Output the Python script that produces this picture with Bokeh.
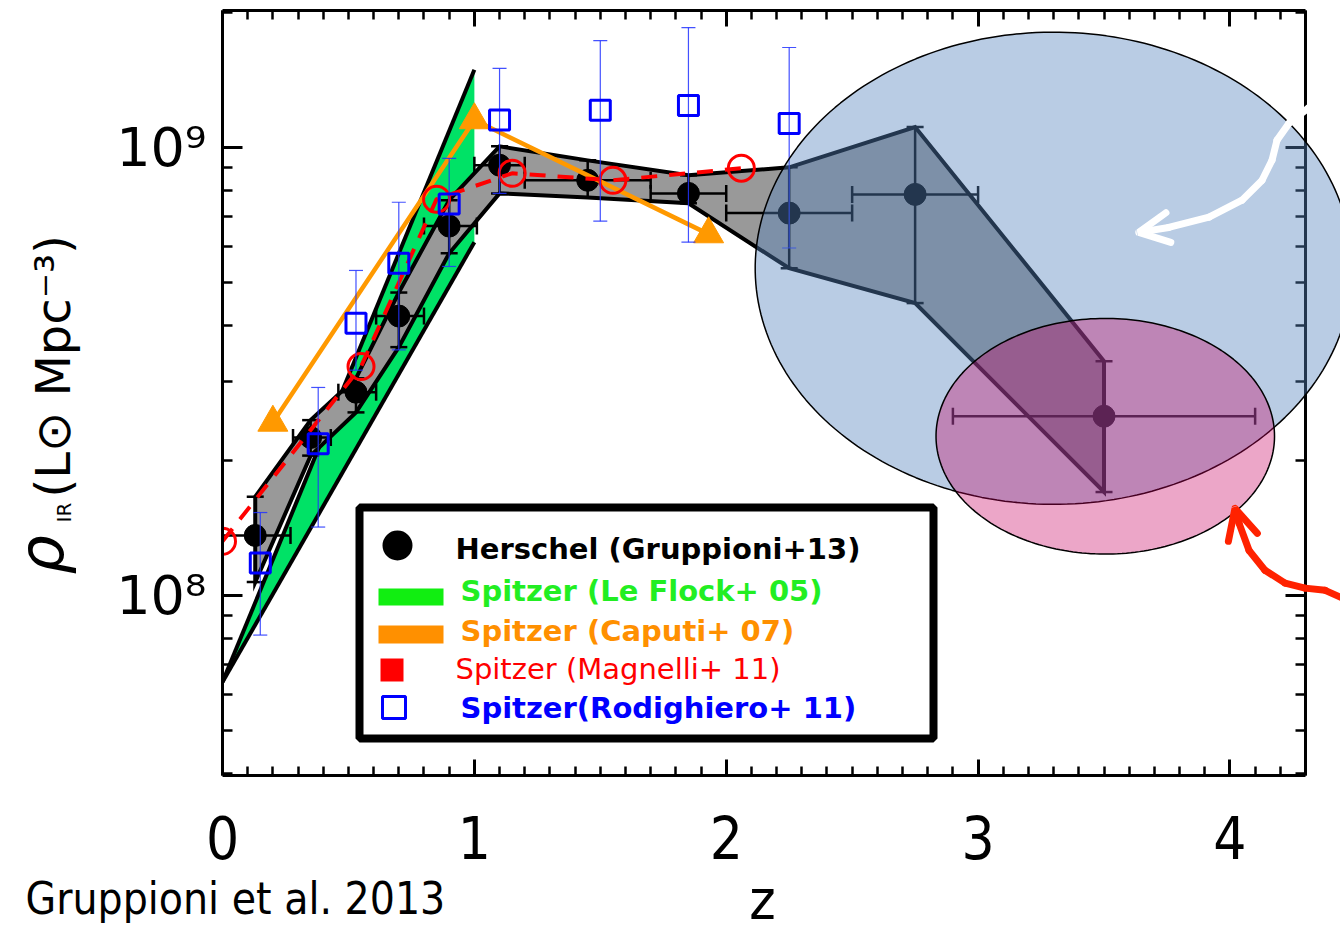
import numpy as np
from bokeh.plotting import figure
from bokeh.models import (Range1d, LogAxis, LinearAxis, FixedTicker, CustomJSTickFormatter,
                          PolyAnnotation, BoxAnnotation, Label, Arrow, OpenHead, ColumnDataSource)
from bokeh.embed import file_html
from bokeh.resources import INLINE

# ---------------- data ----------------
# Herschel (Gruppioni+13)
her_z = [0.13, 0.35, 0.53, 0.70, 0.90, 1.10, 1.45, 1.85, 2.25, 2.75, 3.50]
her_zlo = [0.0, 0.28, 0.46, 0.61, 0.80, 1.00, 1.20, 1.70, 2.00, 2.50, 2.90]
her_zhi = [0.27, 0.43, 0.61, 0.80, 1.01, 1.20, 1.70, 2.00, 2.50, 3.00, 4.10]
her_rho = [1.36e8, 2.25e8, 2.84e8, 4.20e8, 6.67e8, 9.12e8, 8.44e8, 7.89e8, 7.13e8, 7.85e8, 2.51e8]
her_hi = [1.66e8, 2.46e8, 3.05e8, 4.74e8, 7.62e8, 1.005e9, 9.35e8, 8.66e8, 9.02e8, 1.11e9, 3.33e8]
her_lo = [1.07e8, 2.05e8, 2.56e8, 3.58e8, 5.80e8, 7.89e8, 7.73e8, 7.50e8, 5.37e8, 4.49e8, 1.70e8]

# Spitzer (Le Floc'h+05) band
lf_z = [0.0, 1.0]
lf_lo = [6.4e7, 6.14e8]
lf_hi = [6.4e7, 1.49e9]

# Spitzer (Caputi+07)
cap_z = [0.20, 1.00, 1.93]
cap_rho = [2.43e8, 1.15e9, 6.40e8]

# Spitzer (Magnelli+11)
mag_z = [0.0, 0.55, 0.85, 1.15, 1.55, 2.06]
mag_rho = [1.32e8, 3.24e8, 7.66e8, 8.75e8, 8.44e8, 8.98e8]

# Spitzer (Rodighiero+11)
rod_z = [0.15, 0.38, 0.53, 0.70, 0.90, 1.10, 1.50, 1.85, 2.25]
rod_rho = [1.18e8, 2.18e8, 4.05e8, 5.51e8, 7.47e8, 1.15e9, 1.21e9, 1.24e9, 1.13e9]
rod_hi = [1.53e8, 2.91e8, 5.31e8, 7.54e8, 9.45e8, 1.50e9, 1.73e9, 1.85e9, 1.67e9]
rod_lo = [8.15e7, 1.42e8, 3.18e8, 3.53e8, 5.42e8, 7.89e8, 6.84e8, 6.14e8, 5.96e8]

x_major = [0, 1, 2, 3, 4]
y_major = [1e8, 1e9]
Z_MIN, Z_MAX = 0.0, 4.3
RHO_MIN, RHO_MAX = 3.96e7, 2.02e9

# highlight ellipses (centre z, half-width in z, centre log10 rho, half-height in dex)
blue_ell = (3.30, 1.185, 8.730, 0.527)
pink_ell = (3.505, 0.672, 8.355, 0.263)

# annotation arrows (z, log10 rho) paths, last point = tip
white_arrow = [(4.465, 9.132), (4.314, 9.089), (4.235, 9.054), (4.187, 9.016), (4.167, 8.971),
               (4.127, 8.926), (4.048, 8.882), (3.917, 8.844), (3.757, 8.821), (3.638, 8.810)]
red_arrow = [(4.465, 7.989), (4.378, 8.011), (4.298, 8.016), (4.219, 8.027), (4.139, 8.056),
             (4.076, 8.100), (4.036, 8.161), (4.020, 8.194)]

# ---------------- layout: axes box inside a full-canvas frame ----------------
W, H = 1340, 935
BOX_L, BOX_R, BOX_T, BOX_B = 222, 1305, 10, 775   # pixel edges of the axes box
sx = (BOX_R - BOX_L) / (Z_MAX - Z_MIN)
ly0, ly1 = np.log10(RHO_MIN), np.log10(RHO_MAX)
sy = (BOX_B - BOX_T) / (ly1 - ly0)
x_range = Range1d(Z_MIN - BOX_L / sx, Z_MAX + (W - BOX_R) / sx)
y_range = Range1d(10 ** (ly0 - (H - BOX_B) / sy), 10 ** (ly1 + BOX_T / sy))

p = figure(width=W, height=H, x_range=x_range, y_range=y_range,
           y_axis_type="log", output_backend="svg", toolbar_location=None,
           min_border_left=0, min_border_right=0, min_border_top=0, min_border_bottom=0)
p.xgrid.visible = False
p.ygrid.visible = False
p.outline_line_color = None
p.background_fill_color = "white"
p.border_fill_color = "white"

x_minor = [i / 10 for i in range(0, 44) if i % 10]
y_minor = [k * 10 ** e for e in (7, 8) for k in range(2, 10) if k * 10 ** e > 3.9e7] + [2e9]


def style_axis(ax, tin, tmin):
    ax.axis_line_width = 3
    ax.major_tick_line_width = 3
    ax.minor_tick_line_width = 2.5
    ax.major_tick_in = tin
    ax.major_tick_out = 0
    ax.minor_tick_in = tmin
    ax.minor_tick_out = 0


xa = p.xaxis[0]
xa.ticker = FixedTicker(ticks=x_major, minor_ticks=x_minor)
xa.fixed_location = RHO_MIN
xa.bounds = (Z_MIN, Z_MAX)
style_axis(xa, 16, 9)
xa.major_label_text_font = "DejaVu Sans Condensed"
xa.major_label_text_font_size = "58px"
xa.major_label_standoff = 40
xa.major_label_text_color = "black"

ya = p.yaxis[0]
ya.ticker = FixedTicker(ticks=y_major, minor_ticks=y_minor)
ya.fixed_location = Z_MIN
ya.bounds = (RHO_MIN, RHO_MAX)
ya.formatter = CustomJSTickFormatter(code="""
const e = Math.round(Math.log10(tick));
const sup = {"7": "\u2077", "8": "\u2078", "9": "\u2079"};
return "10" + sup[String(e)];
""")
style_axis(ya, 20, 10)
ya.major_label_text_font = "DejaVu Sans"
ya.major_label_text_font_size = "54px"
ya.major_label_standoff = 16
ya.major_label_text_color = "black"

top = LinearAxis(ticker=FixedTicker(ticks=x_major, minor_ticks=x_minor),
                 formatter=CustomJSTickFormatter(code="return '';"), major_label_standoff=0,
                 major_label_text_font_size="10px", fixed_location=RHO_MAX, bounds=(Z_MIN, Z_MAX))
style_axis(top, 16, 9)
p.add_layout(top, "above")
right = LogAxis(ticker=FixedTicker(ticks=y_major, minor_ticks=y_minor),
                formatter=CustomJSTickFormatter(code="return '';"), major_label_standoff=0,
                major_label_text_font_size="10px", fixed_location=Z_MAX, bounds=(RHO_MIN, RHO_MAX))
style_axis(right, 20, 10)
p.add_layout(right, "right")

# ---------------- data layers ----------------
p.varea(x=lf_z, y1=lf_lo, y2=lf_hi, fill_color="#00e266")
p.line(lf_z, lf_hi, line_color="black", line_width=4)
p.line(lf_z, lf_lo, line_color="black", line_width=4)

p.patch(her_z + her_z[::-1], her_hi + her_lo[::-1], fill_color="#999999",
        line_color="black", line_width=4, line_join="miter")

p.segment(x0=her_z, y0=her_lo, x1=her_z, y1=her_hi, line_color="black", line_width=2.5)
p.segment(x0=her_zlo, y0=her_rho, x1=her_zhi, y1=her_rho, line_color="black", line_width=2.5)
p.scatter(her_z + her_z, her_lo + her_hi, marker="dash", size=17, line_color="black", line_width=2.5)
p.scatter(her_zlo + her_zhi, her_rho + her_rho, marker="dash", angle=np.pi / 2, size=17,
          line_color="black", line_width=2.5)
p.scatter(her_z, her_rho, size=22, fill_color="black", line_color="black")

p.line(cap_z, cap_rho, line_color="#ff9900", line_width=4.5)
p.scatter(cap_z, cap_rho, marker="triangle", size=30, fill_color="#ff9900", line_color="#ff9900")

p.line(mag_z, mag_rho, line_color="#ff0000", line_width=4, line_dash="16 12")
p.scatter(mag_z, mag_rho, marker="circle", size=26, fill_color=None, line_color="#ff0000", line_width=3)

p.segment(x0=rod_z, y0=rod_lo, x1=rod_z, y1=rod_hi, line_color="#2233ff", line_width=1.2, line_alpha=0.85)
p.scatter(rod_z + rod_z, rod_lo + rod_hi, marker="dash", size=14, line_color="#2233ff", line_width=1.2,
          line_alpha=0.85)
p.scatter(rod_z, rod_rho, marker="square", size=20, fill_color=None, line_color="#0000ff", line_width=3)

# mask data marks that fall left of the axes box (as the original clips at z = 0)
p.add_layout(BoxAnnotation(right=Z_MIN, fill_color="white", fill_alpha=1, line_color=None,
                           level="glyph"))

# ---------------- highlight ellipses ----------------
t = np.linspace(0, 2 * np.pi, 240)
for (cx, rx, cy, ry), col, alpha in ((blue_ell, "#5482bd", 0.41), (pink_ell, "#c80062", 0.35)):
    p.add_layout(PolyAnnotation(xs=list(cx + rx * np.cos(t)), ys=list(10 ** (cy + ry * np.sin(t))),
                                xs_units="data", ys_units="data", fill_color=col, fill_alpha=alpha,
                                line_color="black", line_alpha=1, line_width=1.5, level="overlay"))

# ---------------- curved arrows ----------------
for path, col, w in ((white_arrow, "white", 7), (red_arrow, "#ff2200", 7)):
    xs = [a for a, _ in path]
    ys = [10 ** b for _, b in path]
    body = ColumnDataSource(dict(x0=xs[:-2], y0=ys[:-2], x1=xs[1:-1], y1=ys[1:-1]))
    p.add_layout(Arrow(source=body, x_start="x0", y_start="y0", x_end="x1", y_end="y1", end=None,
                       line_color=col, line_width=w, line_cap="round", line_join="round",
                       level="overlay"))
    p.add_layout(Arrow(x_start=xs[-2], y_start=ys[-2], x_end=xs[-1], y_end=ys[-1],
                       end=OpenHead(size=30, line_color=col, line_width=w, line_cap="round"),
                       line_color=col, line_width=w, line_cap="round", level="overlay"))


# ---------------- legend (screen units from the canvas bottom-left) ----------------
def sbox(**kw):
    return BoxAnnotation(left_units="screen", right_units="screen", top_units="screen",
                         bottom_units="screen", fill_alpha=1, line_alpha=1, **kw)


p.add_layout(sbox(left=359, right=933, top=428, bottom=197, fill_color="white",
                  line_color="black", line_width=8))
p.add_layout(sbox(left=382, right=412, top=405, bottom=375, fill_color="black",
                  line_color=None, border_radius=15))
p.add_layout(sbox(left=378, right=443, top=347, bottom=330, fill_color="#11ee11", line_color=None))
p.add_layout(sbox(left=378, right=443, top=310, bottom=292, fill_color="#ff9000", line_color=None))
p.add_layout(sbox(left=380, right=403, top=277, bottom=254, fill_color="#ff0000", line_color=None))
p.add_layout(sbox(left=382, right=405, top=239, bottom=217, fill_color="white", line_color="#0000ff",
                  line_width=3))

legend_texts = [("Herschel (Gruppioni+13)", "black", 455, 387, "bold"),
                ("Spitzer (Le Flock+ 05)", "#22ee22", 460, 345, "bold"),
                ("Spitzer (Caputi+ 07)", "#ff9000", 460, 305, "bold"),
                ("Spitzer  (Magnelli+ 11)", "#ff0000", 455, 267, "normal"),
                ("Spitzer(Rodighiero+ 11)", "#0000ff", 460, 228, "bold")]
for txt, col, lx, ly, fs in legend_texts:
    p.add_layout(Label(x=lx, y=ly, x_units="screen", y_units="screen", text=txt, text_color=col,
                       text_font="DejaVu Sans", text_font_style=fs, text_font_size="29px",
                       text_baseline="middle", text_align="left"))

# ---------------- axis titles & credit ----------------
p.add_layout(Label(x=41, y=361, x_units="screen", y_units="screen", text="\u03c1", angle=np.pi / 2,
                   text_font="DejaVu Sans", text_font_style="italic", text_font_size="62px",
                   text_baseline="middle", text_align="left", text_color="black"))
p.add_layout(Label(x=63, y=413, x_units="screen", y_units="screen", text="IR", angle=np.pi / 2,
                   text_font="DejaVu Sans", text_font_size="20px",
                   text_baseline="middle", text_align="left", text_color="black"))
p.add_layout(Label(x=52, y=438, x_units="screen", y_units="screen", text="(L\u2299 Mpc\u207b\u00b3)",
                   angle=np.pi / 2, text_font="DejaVu Sans", text_font_size="48px",
                   text_baseline="middle", text_align="left", text_color="black"))
p.add_layout(Label(x=762, y=36, x_units="screen", y_units="screen", text="z",
                   text_font="DejaVu Sans Condensed", text_font_size="56px",
                   text_baseline="middle", text_align="center", text_color="black"))
p.add_layout(Label(x=25, y=37, x_units="screen", y_units="screen", text="Gruppioni et al. 2013",
                   text_font="DejaVu Sans Condensed", text_font_size="44px",
                   text_baseline="middle", text_align="left", text_color="black"))

open("out.html", "w").write(file_html(p, INLINE))
